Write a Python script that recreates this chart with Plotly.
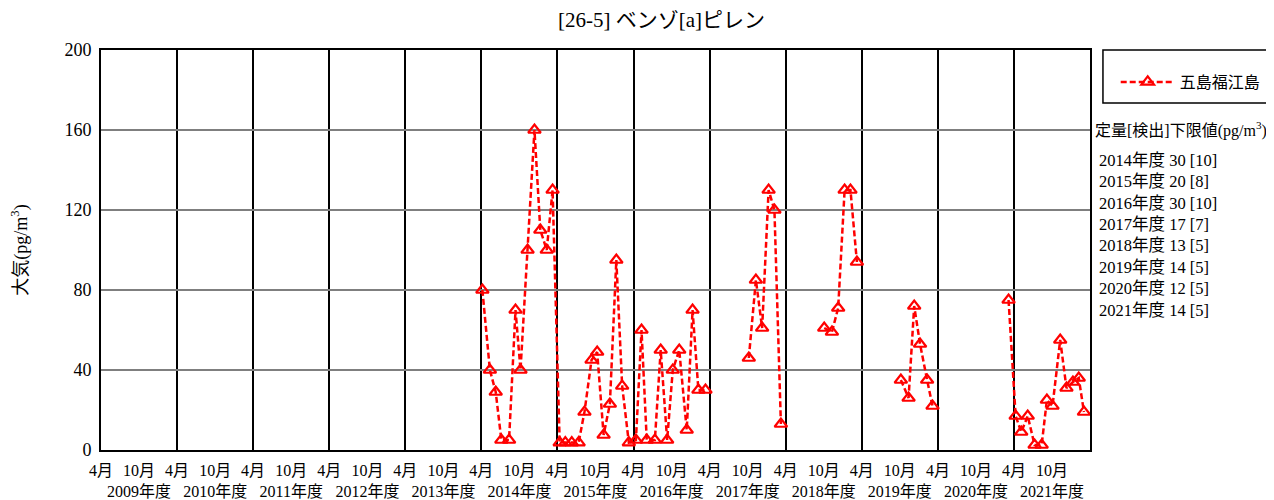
import plotly.graph_objects as go

# ---- data ----
dates = [
    "2014-04-06", "2014-05-12", "2014-06-09", "2014-07-06", "2014-08-12", "2014-09-12",
    "2014-10-06", "2014-11-09", "2014-12-12", "2015-01-09", "2015-02-09", "2015-03-09",
    "2015-04-12", "2015-05-09", "2015-06-09", "2015-07-12", "2015-08-09", "2015-09-12",
    "2015-10-09", "2015-11-09", "2015-12-09", "2016-01-09", "2016-02-06", "2016-03-09",
    "2016-04-12", "2016-05-09", "2016-06-03", "2016-07-12", "2016-08-09", "2016-09-09",
    "2016-10-06", "2016-11-06", "2016-12-12", "2017-01-09", "2017-02-06", "2017-03-12",
    "2017-06-15",
    "2017-10-06", "2017-11-09", "2017-12-09", "2018-01-09", "2018-02-06", "2018-03-09",
    "2018-06-15",
    "2018-10-03", "2018-11-09", "2018-12-09", "2019-01-09", "2019-02-06", "2019-03-09",
    "2019-06-15",
    "2019-10-06", "2019-11-12", "2019-12-09", "2020-01-06", "2020-02-09", "2020-03-06",
    "2020-06-15",
    "2021-03-06",
    "2021-04-09", "2021-05-06", "2021-06-06", "2021-07-09", "2021-08-12", "2021-09-06",
    "2021-10-03", "2021-11-09", "2021-12-09", "2022-01-09", "2022-02-06", "2022-03-03",
]
values = [
    80, 40, 29, 5, 5, 70,
    40, 100, 160, 110, 100, 130,
    3.7, 3.7, 3.7, 3.7, 19, 45,
    49, 7.5, 23, 95, 32, 3.7,
    5, 60, 5, 5, 50, 5,
    40, 50, 10, 70, 30, 30,
    None,
    46, 85, 61, 130, 120, 13,
    None,
    61, 59, 71, 130, 130, 94,
    None,
    35, 26, 72, 53, 35, 22,
    None,
    75,
    17, 9, 17, 2.5, 2.5, 25,
    22, 55, 31, 34, 36, 19,
]
series_name = "五島福江島"

fy_years = list(range(2009, 2022))
april_ticks = [f"{y}-04-01" for y in fy_years]
october_ticks = [f"{y}-10-01" for y in fy_years]
april_labels = ["4月"] * len(fy_years)
october_labels = [f"10月<br>{y}年度" for y in fy_years]

lod_title = "定量[検出]下限値(pg/m<sup>3</sup>)"
lod_years = ["2014年度", "2015年度", "2016年度", "2017年度", "2018年度", "2019年度", "2020年度", "2021年度"]
lod_values = ["30 [10]", "20 [8]", "30 [10]", "17 [7]", "13 [5]", "14 [5]", "12 [5]", "14 [5]"]

FONT = "'Liberation Serif', 'Times New Roman', 'Noto Sans CJK JP', serif"
RED = "#ff0000"

fig = go.Figure()
fig.add_trace(go.Scatter(
    x=dates, y=values, name=series_name, mode="lines+markers",
    connectgaps=False,
    line=dict(color=RED, width=2.5, dash="6px,3px"),
    marker=dict(symbol="triangle-up-open", size=11, color=RED, line=dict(color=RED, width=2.2)),
))

tickvals = april_ticks + october_ticks
ticktext = april_labels + october_labels

# page body has an 8px margin: compensate so the plot sits where the reference has it
fig.update_layout(
    width=1266, height=492,
    margin=dict(l=93, r=184, t=42, b=50, autoexpand=False),
    paper_bgcolor="white", plot_bgcolor="white",
    font=dict(family=FONT, size=16, color="#000000"),
    showlegend=True,
    legend=dict(x=1.026, y=0.92, xanchor="left", yanchor="middle",
                bgcolor="rgba(0,0,0,0)", borderwidth=0, itemwidth=54,
                font=dict(family=FONT, size=16)),
    xaxis=dict(
        type="date", range=["2009-04-01", "2022-04-01"],
        tickmode="array", tickvals=tickvals, ticktext=ticktext,
        showgrid=False, ticks="", tickangle=0, ticklabelstandoff=5,
        tickfont=dict(family=FONT, size=16),
        showline=True, linecolor="#000000", linewidth=2, mirror=True,
        minor=dict(dtick="M12", tick0="2009-04-01", showgrid=True,
                   gridcolor="#000000", gridwidth=1.5, ticks=""),
        zeroline=False,
    ),
    yaxis=dict(
        range=[0, 200], dtick=40, tick0=0,
        showgrid=True, gridcolor="#7f7f7f", gridwidth=1.5,
        showline=True, linecolor="#000000", linewidth=2, mirror=True,
        ticks="", tickfont=dict(family=FONT, size=18), ticklabelstandoff=4,
        title=dict(text="大気(pg/m<sup>3</sup>)", font=dict(family=FONT, size=18), standoff=34),
        zeroline=False,
    ),
)

annotations = [
    dict(text="[26-5] ベンゾ[a]ピレン", xref="paper", yref="paper", x=0.567, y=1.075,
         xanchor="center", yanchor="middle", showarrow=False, font=dict(family=FONT, size=21)),
    dict(text=lod_title, xref="paper", yref="paper", x=1.003, y=0.8025,
         xanchor="left", yanchor="middle", showarrow=False, font=dict(family=FONT, size=16)),
]
for i, (yr, v) in enumerate(zip(lod_years, lod_values)):
    annotations.append(dict(text=f"{yr} {v}", xref="paper", yref="paper", x=1.007,
                            y=0.7245 - i * 0.0536, xanchor="left", yanchor="middle",
                            showarrow=False, font=dict(family=FONT, size=16.5)))
fig.update_layout(annotations=annotations)

fig.add_shape(type="rect", xref="paper", yref="paper", x0=1.0131, x1=1.181, y0=0.8675, y1=1.0,
              line=dict(color="#000000", width=1.5), fillcolor="rgba(0,0,0,0)")

fig.write_html("out.html")
